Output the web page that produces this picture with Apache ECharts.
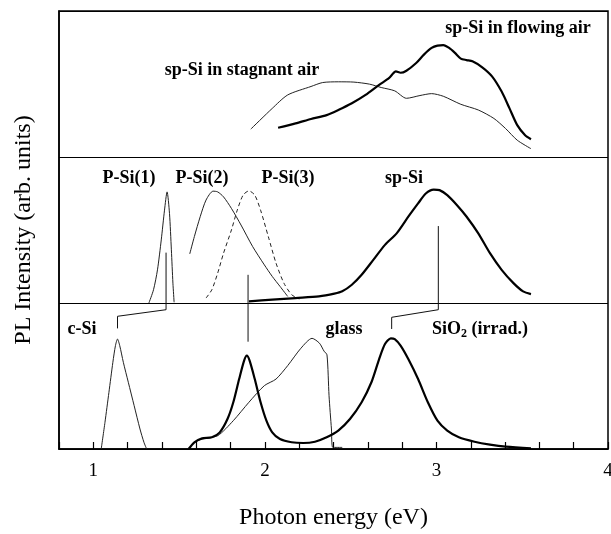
<!DOCTYPE html>
<html>
<head>
<meta charset="utf-8">
<title>PL spectra</title>
<script src="https://cdn.jsdelivr.net/npm/echarts@6/dist/echarts.min.js"></script>
<style>
  html, body { margin: 0; padding: 0; background: #fff; }
  #chart { width: 611px; height: 534px; }
</style>
</head>
<body>
<div id="chart"></div>
<script>
// [photon energy (eV), intensity inside its own panel 0..1]

// top panel
const stagnantAir = [
  [1.918, 0.191], [2.043, 0.333], [2.133, 0.425], [2.269, 0.483], [2.337, 0.510],
  [2.428, 0.515], [2.519, 0.513], [2.610, 0.499], [2.678, 0.476], [2.757, 0.453],
  [2.825, 0.402], [2.904, 0.421], [2.972, 0.434], [3.040, 0.416], [3.142, 0.361],
  [3.244, 0.322], [3.335, 0.264], [3.403, 0.195], [3.471, 0.115], [3.551, 0.057]
]
const flowingAir = [
  [2.077, 0.200], [2.179, 0.230], [2.269, 0.260], [2.360, 0.287], [2.428, 0.322],
  [2.507, 0.368], [2.587, 0.425], [2.666, 0.494], [2.723, 0.540], [2.764, 0.586],
  [2.791, 0.577], [2.825, 0.591], [2.882, 0.644], [2.927, 0.701], [2.972, 0.747],
  [3.006, 0.763], [3.040, 0.766], [3.074, 0.747], [3.108, 0.713], [3.142, 0.674],
  [3.176, 0.664], [3.210, 0.655], [3.267, 0.614], [3.324, 0.552], [3.380, 0.448],
  [3.426, 0.333], [3.471, 0.218], [3.517, 0.149], [3.551, 0.122]
]

// middle panel
const pSi1 = [
  [1.324, 0.0], [1.351, 0.091], [1.374, 0.227], [1.396, 0.432], [1.415, 0.636],
  [1.430, 0.761], [1.444, 0.614], [1.455, 0.364], [1.464, 0.136], [1.471, 0.005]
]
const pSi2 = [
  [1.562, 0.336], [1.589, 0.455], [1.623, 0.591], [1.657, 0.705], [1.698, 0.766],
  [1.725, 0.761], [1.759, 0.727], [1.805, 0.648], [1.861, 0.534], [1.929, 0.386],
  [1.997, 0.261], [2.043, 0.182], [2.088, 0.114], [2.133, 0.045]
]
const pSi3 = [
  [1.657, 0.034], [1.691, 0.091], [1.725, 0.205], [1.759, 0.341], [1.805, 0.500],
  [1.839, 0.636], [1.873, 0.739], [1.907, 0.768], [1.941, 0.739], [1.975, 0.636],
  [2.020, 0.455], [2.065, 0.273], [2.111, 0.136], [2.156, 0.057], [2.201, 0.027]
]
const spSi = [
  [1.907, 0.011], [2.043, 0.023], [2.179, 0.034], [2.315, 0.045], [2.405, 0.064],
  [2.451, 0.080], [2.507, 0.125], [2.564, 0.193], [2.632, 0.295], [2.700, 0.398],
  [2.768, 0.477], [2.836, 0.591], [2.893, 0.682], [2.938, 0.750], [2.984, 0.777],
  [3.018, 0.773], [3.063, 0.739], [3.120, 0.670], [3.176, 0.591], [3.244, 0.477],
  [3.312, 0.341], [3.380, 0.227], [3.449, 0.136], [3.505, 0.080], [3.551, 0.061]
]

// bottom panel
const cSi = [
  [1.046, 0.0], [1.068, 0.183], [1.091, 0.388], [1.114, 0.594], [1.129, 0.708],
  [1.141, 0.753], [1.154, 0.708], [1.175, 0.594], [1.204, 0.457], [1.238, 0.297],
  [1.272, 0.137], [1.295, 0.046], [1.311, 0.0]
]
const glass = [
  [1.555, 0.0], [1.589, 0.046], [1.634, 0.068], [1.725, 0.091], [1.816, 0.194],
  [1.907, 0.320], [1.997, 0.434], [2.065, 0.479], [2.133, 0.571], [2.210, 0.690],
  [2.275, 0.758], [2.318, 0.725], [2.345, 0.670], [2.362, 0.645], [2.374, 0.365],
  [2.388, 0.137], [2.396, 0.011], [2.451, 0.011]
]
const pSiSiO2 = [
  [1.555, 0.0], [1.589, 0.046], [1.634, 0.073], [1.691, 0.080], [1.737, 0.114],
  [1.782, 0.205], [1.816, 0.320], [1.850, 0.479], [1.879, 0.605], [1.895, 0.639],
  [1.911, 0.605], [1.941, 0.479], [1.975, 0.320], [2.009, 0.194], [2.043, 0.114],
  [2.088, 0.068], [2.156, 0.046], [2.224, 0.041], [2.292, 0.050], [2.360, 0.080],
  [2.428, 0.126], [2.496, 0.205], [2.564, 0.320], [2.621, 0.457], [2.666, 0.616],
  [2.700, 0.719], [2.734, 0.758], [2.757, 0.753], [2.791, 0.708], [2.836, 0.616],
  [2.893, 0.479], [2.950, 0.320], [3.006, 0.194], [3.063, 0.126], [3.131, 0.080],
  [3.222, 0.050], [3.312, 0.030], [3.403, 0.016], [3.551, 0.005]
]

// peak markers linking panels, y counted over the stacked panels (0..3)
const linkPSi1 = [[1.424, 1.345], [1.424, 0.954], [1.141, 0.909], [1.141, 0.826]]
const linkPSi2 = [[1.902, 1.193], [1.902, 0.735]]
const linkSpSi = [[3.011, 1.527], [3.011, 0.954], [2.739, 0.902], [2.739, 0.822]]

const xTickLabels = [1, 2, 3, 4]
const labels = {
  flowing: 'sp-Si in flowing air',
  stagnant: 'sp-Si in stagnant air',
  p1: 'P-Si(1)',
  p2: 'P-Si(2)',
  p3: 'P-Si(3)',
  sp: 'sp-Si',
  c: 'c-Si',
  glass: 'glass',
}

// panel offsets
const TOP = 2, MID = 1, BOT = 0

let chart = echarts.init(document.getElementById('chart'))

const shift = (arr, base) => arr.map(p => [p[0], p[1] + base])

function curve(data, base, width, dashed) {
  return {
    type: 'line',
    data: shift(data, base),
    showSymbol: false,
    smooth: 0.25,
    silent: true,
    lineStyle: {
      color: width > 1.5 ? '#000' : '#222',
      width: width,
      type: dashed ? [4, 3] : 'solid',
    },
  }
}

function link(data) {
  return {
    type: 'line',
    data: data,
    showSymbol: false,
    silent: true,
    lineStyle: { color: '#111', width: 1 },
  }
}

const serif = '"Liberation Serif", "DejaVu Serif", serif'
function tag(text, x, y) {
  return {
    type: 'text',
    x: x,
    y: y,
    style: {
      text: text,
      fill: '#000',
      font: 'bold 18px ' + serif,
      align: 'center',
      verticalAlign: 'middle',
    },
  }
}

chart.setOption({
  animation: false,
  backgroundColor: '#fff',
  grid: {
    left: 59,
    right: 3,
    top: 11,
    bottom: 85,
    containLabel: false,
    outerBoundsMode: 'none',
    show: true,
    borderColor: '#000',
    borderWidth: 1.5,
  },
  xAxis: {
    type: 'value',
    min: 0.8,
    max: 4,
    interval: 0.2,
    name: 'Photon energy (eV)',
    nameLocation: 'middle',
    nameGap: 57,
    nameTextStyle: { color: '#000', fontSize: 24, fontFamily: serif },
    axisLine: { lineStyle: { color: '#000', width: 1.5 } },
    axisTick: { inside: true, length: 7, lineStyle: { color: '#000', width: 1.2 } },
    axisLabel: {
      color: '#000',
      fontSize: 19,
      fontFamily: serif,
      margin: 13,
      formatter: v => (xTickLabels.indexOf(Math.round(v * 10) / 10) >= 0 ? String(Math.round(v)) : ''),
    },
    splitLine: { show: false },
  },
  yAxis: {
    type: 'value',
    min: 0,
    max: 3,
    interval: 1,
    name: 'PL Intensity (arb. units)',
    nameLocation: 'middle',
    nameGap: 23,
    nameRotate: 90,
    nameTextStyle: { color: '#000', fontSize: 24, fontFamily: serif },
    axisLine: { show: true, lineStyle: { color: '#000', width: 1.5 } },
    axisTick: { show: false },
    axisLabel: { show: false },
    splitLine: { show: true, lineStyle: { color: '#000', width: 1.2 } },
  },
  series: [
    curve(stagnantAir, TOP, 1),
    curve(flowingAir, TOP, 2.2),
    curve(pSi1, MID, 1),
    curve(pSi2, MID, 1),
    curve(pSi3, MID, 1, true),
    curve(spSi, MID, 2.2),
    curve(cSi, BOT, 1),
    curve(glass, BOT, 1),
    curve(pSiSiO2, BOT, 2.2),
    link(linkPSi1),
    link(linkPSi2),
    link(linkSpSi),
  ],
  graphic: [
    tag(labels.flowing, 518, 28),
    tag(labels.stagnant, 242, 70),
    tag(labels.p1, 129, 178),
    tag(labels.p2, 202, 178),
    tag(labels.p3, 288, 178),
    tag(labels.sp, 404, 178),
    tag(labels.c, 82, 329),
    tag(labels.glass, 344, 329),
    {
      type: 'text',
      x: 432,
      y: 320,
      style: {
        text: '{n|SiO}{s|2}{n| (irrad.)}',
        fill: '#000',
        font: 'bold 18px ' + serif,
        rich: {
          n: { fontSize: 18, fontWeight: 'bold', fontFamily: serif, lineHeight: 20, verticalAlign: 'top' },
          s: { fontSize: 12, fontWeight: 'bold', fontFamily: serif, lineHeight: 20, verticalAlign: 'bottom', padding: [10, 0, 0, 0] },
        },
      },
    },
  ],
})
</script>
</body>
</html>
